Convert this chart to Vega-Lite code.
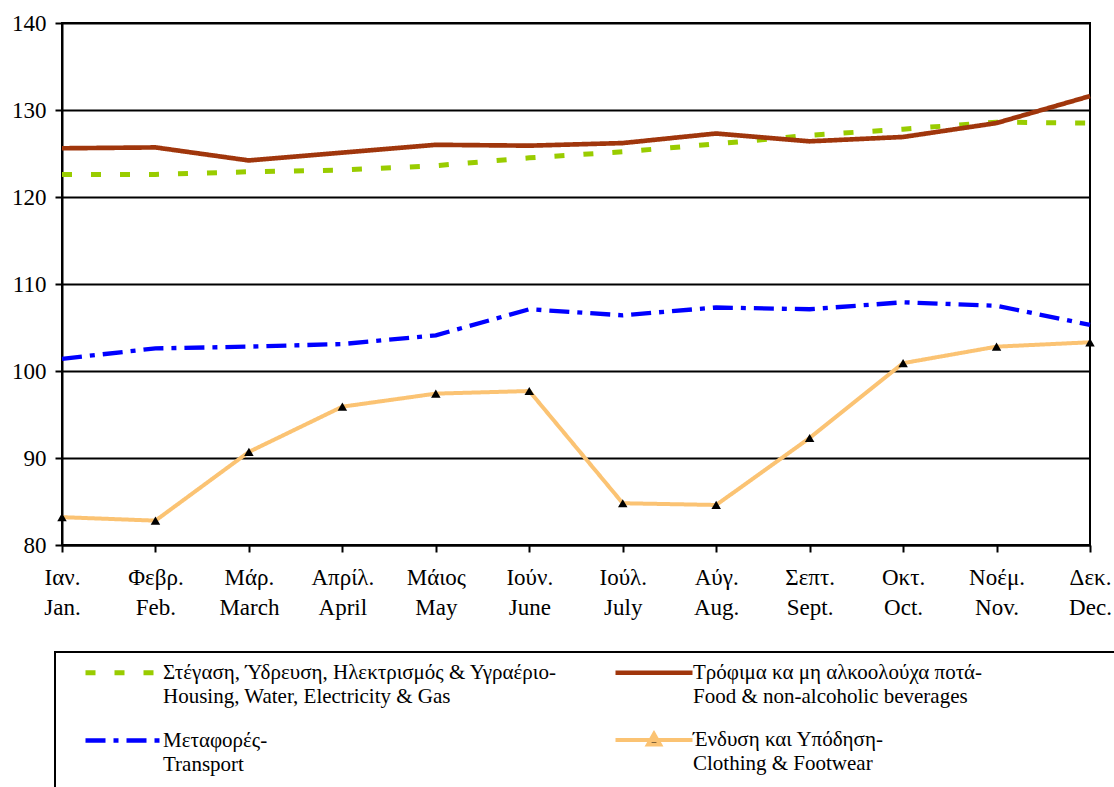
{
  "$schema": "https://vega.github.io/schema/vega-lite/v6.json",
  "width": 1028,
  "height": 522,
  "autosize": "none",
  "padding": {"left": 62, "top": 23, "right": 24, "bottom": 242},
  "background": "white",
  "config": {
    "font": "Liberation Serif",
    "view": {"stroke": "black", "strokeWidth": 2},
    "legend": {"labelFont": "Liberation Serif"},
    "axis": {"labelFont": "Liberation Serif"}
  },
  "data": {
    "values": [
      {"month": "Ιαν.|Jan.", "series": "Στέγαση, Ύδρευση, Ηλεκτρισμός & Υγραέριο-|Housing, Water, Electricity & Gas", "value": 122.6},
      {"month": "Φεβρ.|Feb.", "series": "Στέγαση, Ύδρευση, Ηλεκτρισμός & Υγραέριο-|Housing, Water, Electricity & Gas", "value": 122.6},
      {"month": "Μάρ.|March", "series": "Στέγαση, Ύδρευση, Ηλεκτρισμός & Υγραέριο-|Housing, Water, Electricity & Gas", "value": 122.9},
      {"month": "Απρίλ.|April", "series": "Στέγαση, Ύδρευση, Ηλεκτρισμός & Υγραέριο-|Housing, Water, Electricity & Gas", "value": 123.1},
      {"month": "Μάιος|May", "series": "Στέγαση, Ύδρευση, Ηλεκτρισμός & Υγραέριο-|Housing, Water, Electricity & Gas", "value": 123.6},
      {"month": "Ιούν.|June", "series": "Στέγαση, Ύδρευση, Ηλεκτρισμός & Υγραέριο-|Housing, Water, Electricity & Gas", "value": 124.5},
      {"month": "Ιούλ.|July", "series": "Στέγαση, Ύδρευση, Ηλεκτρισμός & Υγραέριο-|Housing, Water, Electricity & Gas", "value": 125.2},
      {"month": "Αύγ.|Aug.", "series": "Στέγαση, Ύδρευση, Ηλεκτρισμός & Υγραέριο-|Housing, Water, Electricity & Gas", "value": 126.1},
      {"month": "Σεπτ.|Sept.", "series": "Στέγαση, Ύδρευση, Ηλεκτρισμός & Υγραέριο-|Housing, Water, Electricity & Gas", "value": 127.1},
      {"month": "Οκτ.|Oct.", "series": "Στέγαση, Ύδρευση, Ηλεκτρισμός & Υγραέριο-|Housing, Water, Electricity & Gas", "value": 127.8},
      {"month": "Νοέμ.|Nov.", "series": "Στέγαση, Ύδρευση, Ηλεκτρισμός & Υγραέριο-|Housing, Water, Electricity & Gas", "value": 128.6},
      {"month": "Δεκ.|Dec.", "series": "Στέγαση, Ύδρευση, Ηλεκτρισμός & Υγραέριο-|Housing, Water, Electricity & Gas", "value": 128.5},

      {"month": "Ιαν.|Jan.", "series": "Τρόφιμα κα μη αλκοολούχα ποτά-|Food & non-alcoholic beverages", "value": 125.6},
      {"month": "Φεβρ.|Feb.", "series": "Τρόφιμα κα μη αλκοολούχα ποτά-|Food & non-alcoholic beverages", "value": 125.7},
      {"month": "Μάρ.|March", "series": "Τρόφιμα κα μη αλκοολούχα ποτά-|Food & non-alcoholic beverages", "value": 124.2},
      {"month": "Απρίλ.|April", "series": "Τρόφιμα κα μη αλκοολούχα ποτά-|Food & non-alcoholic beverages", "value": 125.1},
      {"month": "Μάιος|May", "series": "Τρόφιμα κα μη αλκοολούχα ποτά-|Food & non-alcoholic beverages", "value": 126.0},
      {"month": "Ιούν.|June", "series": "Τρόφιμα κα μη αλκοολούχα ποτά-|Food & non-alcoholic beverages", "value": 125.9},
      {"month": "Ιούλ.|July", "series": "Τρόφιμα κα μη αλκοολούχα ποτά-|Food & non-alcoholic beverages", "value": 126.2},
      {"month": "Αύγ.|Aug.", "series": "Τρόφιμα κα μη αλκοολούχα ποτά-|Food & non-alcoholic beverages", "value": 127.3},
      {"month": "Σεπτ.|Sept.", "series": "Τρόφιμα κα μη αλκοολούχα ποτά-|Food & non-alcoholic beverages", "value": 126.4},
      {"month": "Οκτ.|Oct.", "series": "Τρόφιμα κα μη αλκοολούχα ποτά-|Food & non-alcoholic beverages", "value": 126.9},
      {"month": "Νοέμ.|Nov.", "series": "Τρόφιμα κα μη αλκοολούχα ποτά-|Food & non-alcoholic beverages", "value": 128.5},
      {"month": "Δεκ.|Dec.", "series": "Τρόφιμα κα μη αλκοολούχα ποτά-|Food & non-alcoholic beverages", "value": 131.6},

      {"month": "Ιαν.|Jan.", "series": "Μεταφορές-|Transport", "value": 101.4},
      {"month": "Φεβρ.|Feb.", "series": "Μεταφορές-|Transport", "value": 102.6},
      {"month": "Μάρ.|March", "series": "Μεταφορές-|Transport", "value": 102.8},
      {"month": "Απρίλ.|April", "series": "Μεταφορές-|Transport", "value": 103.1},
      {"month": "Μάιος|May", "series": "Μεταφορές-|Transport", "value": 104.1},
      {"month": "Ιούν.|June", "series": "Μεταφορές-|Transport", "value": 107.1},
      {"month": "Ιούλ.|July", "series": "Μεταφορές-|Transport", "value": 106.4},
      {"month": "Αύγ.|Aug.", "series": "Μεταφορές-|Transport", "value": 107.3},
      {"month": "Σεπτ.|Sept.", "series": "Μεταφορές-|Transport", "value": 107.1},
      {"month": "Οκτ.|Oct.", "series": "Μεταφορές-|Transport", "value": 107.9},
      {"month": "Νοέμ.|Nov.", "series": "Μεταφορές-|Transport", "value": 107.5},
      {"month": "Δεκ.|Dec.", "series": "Μεταφορές-|Transport", "value": 105.3},

      {"month": "Ιαν.|Jan.", "series": "Ένδυση και Υπόδηση-|Clothing & Footwear", "value": 83.2},
      {"month": "Φεβρ.|Feb.", "series": "Ένδυση και Υπόδηση-|Clothing & Footwear", "value": 82.8},
      {"month": "Μάρ.|March", "series": "Ένδυση και Υπόδηση-|Clothing & Footwear", "value": 90.7},
      {"month": "Απρίλ.|April", "series": "Ένδυση και Υπόδηση-|Clothing & Footwear", "value": 95.9},
      {"month": "Μάιος|May", "series": "Ένδυση και Υπόδηση-|Clothing & Footwear", "value": 97.4},
      {"month": "Ιούν.|June", "series": "Ένδυση και Υπόδηση-|Clothing & Footwear", "value": 97.7},
      {"month": "Ιούλ.|July", "series": "Ένδυση και Υπόδηση-|Clothing & Footwear", "value": 84.8},
      {"month": "Αύγ.|Aug.", "series": "Ένδυση και Υπόδηση-|Clothing & Footwear", "value": 84.6},
      {"month": "Σεπτ.|Sept.", "series": "Ένδυση και Υπόδηση-|Clothing & Footwear", "value": 92.3},
      {"month": "Οκτ.|Oct.", "series": "Ένδυση και Υπόδηση-|Clothing & Footwear", "value": 100.9},
      {"month": "Νοέμ.|Nov.", "series": "Ένδυση και Υπόδηση-|Clothing & Footwear", "value": 102.8},
      {"month": "Δεκ.|Dec.", "series": "Ένδυση και Υπόδηση-|Clothing & Footwear", "value": 103.3}
    ]
  },
  "encoding": {
    "x": {
      "field": "month",
      "type": "ordinal",
      "sort": null,
      "scale": {"type": "point", "padding": 0},
      "axis": {
        "title": null,
        "labelAngle": 0,
        "labelExpr": "split(datum.label, '|')",
        "labelFont": "Liberation Serif",
        "labelFontSize": 23,
        "labelColor": "black",
        "labelLineHeight": 30,
        "labelPadding": 14,
        "tickSize": 7,
        "tickColor": "black",
        "tickWidth": 2,
        "domainColor": "black",
        "domainWidth": 2,
        "grid": false
      }
    },
    "y": {
      "field": "value",
      "type": "quantitative",
      "scale": {"domain": [80, 140], "nice": false, "zero": false},
      "axis": {
        "title": null,
        "values": [80, 90, 100, 110, 120, 130, 140],
        "labelFont": "Liberation Serif",
        "labelFontSize": 23,
        "labelColor": "black",
        "labelPadding": 9,
        "tickSize": 7,
        "tickColor": "black",
        "tickWidth": 2,
        "domainColor": "black",
        "domainWidth": 2,
        "grid": true,
        "gridColor": "black",
        "gridWidth": 2,
        "gridOpacity": 1
      }
    }
  },
  "layer": [
    {
      "mark": {"type": "line", "strokeCap": "butt"},
      "encoding": {
        "color": {
          "field": "series",
          "type": "nominal",
          "scale": {
            "domain": [
              "Στέγαση, Ύδρευση, Ηλεκτρισμός & Υγραέριο-|Housing, Water, Electricity & Gas",
              "Τρόφιμα κα μη αλκοολούχα ποτά-|Food & non-alcoholic beverages",
              "Μεταφορές-|Transport",
              "Ένδυση και Υπόδηση-|Clothing & Footwear"
            ],
            "range": ["#99CC00", "#A0360C", "#0000FF", "#FBC373"]
          },
          "legend": {
            "title": null,
            "orient": "none",
            "direction": "horizontal",
            "legendX": -7,
            "legendY": 629,
            "columns": 2,
            "gridAlign": "each",
            "columnPadding": 36,
            "rowPadding": 19,
            "padding": 8,
            "symbolOffset": 20,
            "strokeColor": "black",
            "labelFont": "Liberation Serif",
            "labelFontSize": 21,
            "labelColor": "black",
            "labelLimit": 0,
            "labelOffset": 55,
            "labelExpr": "split(datum.label, '|')",
            "symbolType": "stroke",
            "symbolSize": 400,
            "encode": {
              "legend": {"update": {"strokeWidth": {"value": 2}}},
              "labels": {"update": {"lineHeight": {"value": 24}}},
              "symbols": {
                "update": {
                  "shape": {"signal": "test(/Clothing/, datum.value) ? 'M-1,0H6.7M2.25,0.45L2.85,-0.6L3.45,0.45ZM2.85,5' : test(/Transport/, datum.value) ? 'M-1,0H6.7M2.85,5' : test(/Food/, datum.value) ? 'M-1,0H6.7M49.7,0' : 'M-1,0H6.7'"},
                  "fill": {"signal": "test(/Clothing/, datum.value) ? 'black' : 'transparent'"},
                  "fillOpacity": {"value": 1},
                  "opacity": {"value": 1}
                }
              }
            }
          }
        },
        "strokeDash": {
          "field": "series",
          "type": "nominal",
          "scale": {
            "domain": [
              "Στέγαση, Ύδρευση, Ηλεκτρισμός & Υγραέριο-|Housing, Water, Electricity & Gas",
              "Τρόφιμα κα μη αλκοολούχα ποτά-|Food & non-alcoholic beverages",
              "Μεταφορές-|Transport",
              "Ένδυση και Υπόδηση-|Clothing & Footwear"
            ],
            "range": [[10, 19], [1, 0], [20, 8, 5, 8], [1, 0]]
          }
        },
        "strokeWidth": {
          "field": "series",
          "type": "nominal",
          "scale": {
            "domain": [
              "Στέγαση, Ύδρευση, Ηλεκτρισμός & Υγραέριο-|Housing, Water, Electricity & Gas",
              "Τρόφιμα κα μη αλκοολούχα ποτά-|Food & non-alcoholic beverages",
              "Μεταφορές-|Transport",
              "Ένδυση και Υπόδηση-|Clothing & Footwear"
            ],
            "range": [5, 4, 3, 2]
          }
        }
      }
    },
    {
      "transform": [{"filter": "test(/Clothing/, datum.series)"}],
      "mark": {"type": "point", "shape": "triangle-up", "filled": true, "color": "black", "size": 90, "opacity": 1}
    }
  ]
}
